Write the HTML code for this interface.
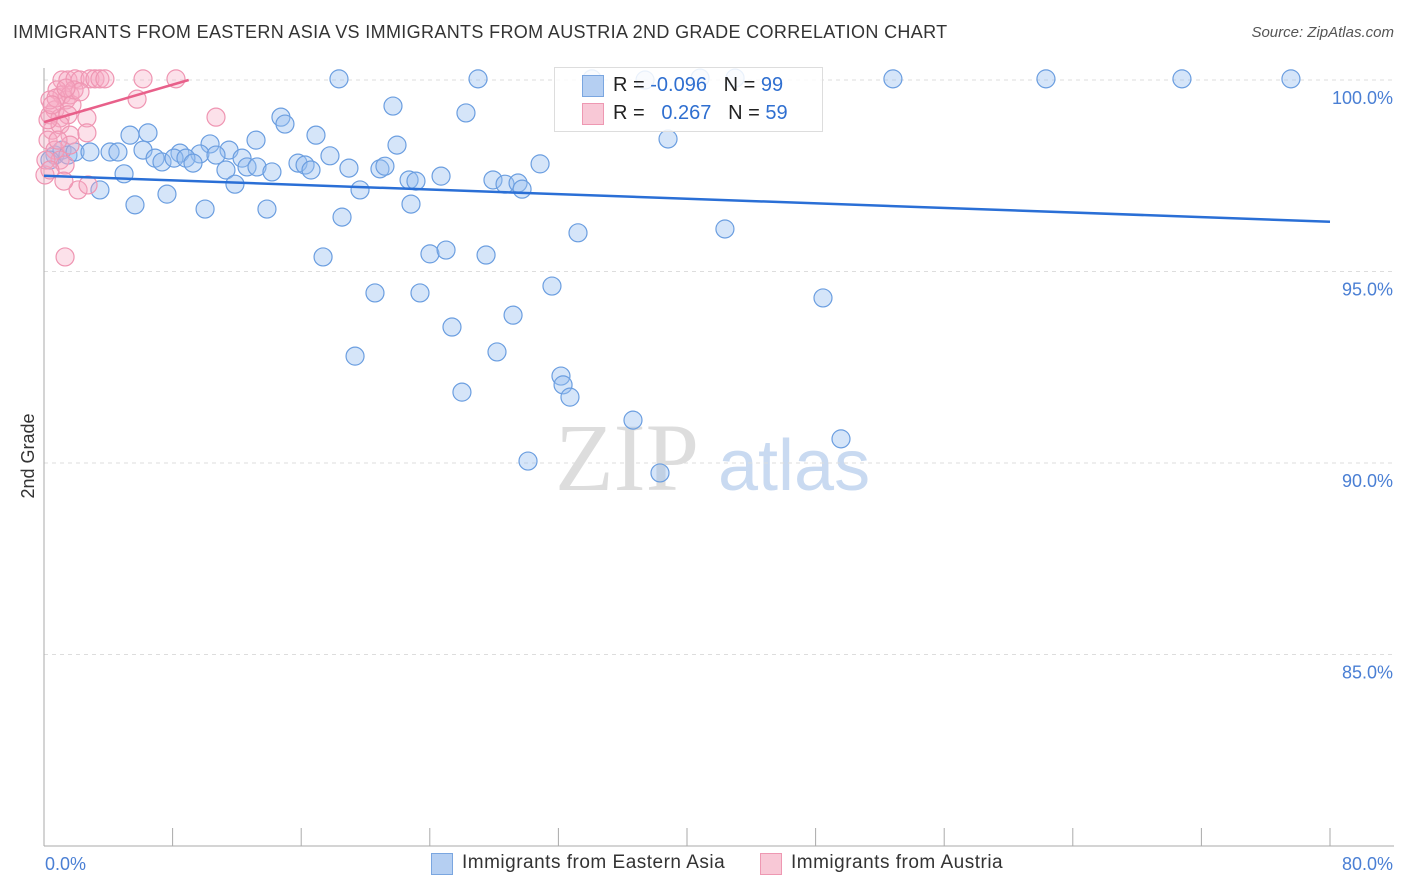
<!DOCTYPE html>
<html><head><meta charset="utf-8"><style>
body{margin:0;background:#fff;font-family:"Liberation Sans",sans-serif;}
#c{position:relative;width:1406px;height:892px;}
.t{position:absolute;white-space:nowrap;}
</style></head><body>
<div id="c">
<div class="t" style="left:13px;top:22px;font-size:18px;color:#333;letter-spacing:0.35px;">IMMIGRANTS FROM EASTERN ASIA VS IMMIGRANTS FROM AUSTRIA 2ND GRADE CORRELATION CHART</div>
<div class="t" style="right:12px;top:24px;font-size:15px;color:#555;font-style:italic;">Source: ZipAtlas.com</div>
<svg id="s" width="1406" height="892" style="position:absolute;left:0;top:0">
<text x="555" y="490" font-size="96" font-family="Liberation Serif" fill="#ddd">ZIP</text>
<text x="718" y="490" font-size="72" font-family="Liberation Sans" fill="#c9daf1">atlas</text>
<g id="grid"></g><g id="pts"></g><g id="lines"></g>
<text transform="translate(34,456) rotate(-90)" text-anchor="middle" font-size="18" fill="#333">2nd Grade</text>
</svg>
<div style="position:absolute;left:554px;top:67px;width:267px;height:63px;border:1px solid #ddd;background:rgba(255,255,255,0.85)">
<div style="position:absolute;left:27px;top:7px;width:20px;height:20px;background:#b5cff2;border:1px solid #7aa6e0"></div>
<div class="t" style="left:58px;top:6px;font-size:20px;color:#222">R = <span style="color:#2f6fd0">-0.096</span>&nbsp;&nbsp;&nbsp;N = <span style="color:#2f6fd0">99</span></div>
<div style="position:absolute;left:27px;top:35px;width:20px;height:20px;background:#f8c8d6;border:1px solid #ee98b2"></div>
<div class="t" style="left:58px;top:34px;font-size:20px;color:#222">R = &nbsp;&nbsp;<span style="color:#2f6fd0">0.267</span>&nbsp;&nbsp;&nbsp;N = <span style="color:#2f6fd0">59</span></div>
</div>
<div style="position:absolute;left:431px;top:853px;width:20px;height:20px;background:#b5cff2;border:1px solid #7aa6e0"></div>
<div class="t" style="left:462px;top:852px;font-size:19px;color:#333;letter-spacing:0.5px">Immigrants from Eastern Asia</div>
<div style="position:absolute;left:760px;top:853px;width:20px;height:20px;background:#f8c8d6;border:1px solid #ee98b2"></div>
<div class="t" style="left:791px;top:852px;font-size:19px;color:#333;letter-spacing:0.5px">Immigrants from Austria</div>
</div>
<script>
const yTicks=[100,95,90,85];
const yTickLabels=["100.0%","95.0%","90.0%","85.0%"];
const xLabels=["0.0%","80.0%"];
const bluePx=[[339,79],[478,79],[893,79],[1046,79],[1182,79],[1291,79],[592,79],[645,80],[700,78],[735,78],[393,106],[466,113],[281,117],[285,124],[668,139],[130,135],[148,133],[210,144],[316,135],[397,145],[256,140],[143,150],[180,153],[200,154],[229,150],[216,155],[155,158],[162,162],[174,158],[186,158],[193,163],[242,158],[247,167],[257,167],[272,172],[226,170],[298,163],[305,165],[311,170],[330,156],[349,168],[380,169],[385,166],[409,180],[416,181],[441,176],[493,180],[505,184],[518,183],[522,189],[540,164],[124,174],[235,184],[100,190],[167,194],[135,205],[205,209],[267,209],[360,190],[411,204],[342,217],[578,233],[725,229],[323,257],[430,254],[446,250],[486,255],[375,293],[420,293],[552,286],[823,298],[452,327],[513,315],[355,356],[497,352],[561,376],[563,385],[570,397],[462,392],[633,420],[841,439],[528,461],[660,473],[55,155],[62,150],[68,155],[75,152],[90,152],[110,152],[118,152],[50,160]];
const pinkPx=[[62,80],[68,80],[75,79],[80,80],[90,79],[95,79],[100,79],[105,79],[143,79],[176,79],[137,99],[216,117],[57,90],[62,95],[66,100],[70,95],[72,105],[55,110],[50,115],[60,118],[68,115],[87,118],[52,130],[60,125],[70,135],[87,133],[48,140],[55,150],[60,160],[70,145],[45,175],[65,165],[78,190],[88,185],[64,181],[65,257],[50,100],[56,98],[48,120],[52,105],[74,90],[80,92],[66,88],[58,140],[46,160],[50,170]];
const blueX=bluePx.map(p=>+((p[0]-44)/16.075).toFixed(2)), blueY=bluePx.map(p=>+(100-(p[1]-80)/38.3).toFixed(2));
const pinkX=pinkPx.map(p=>+((p[0]-44)/16.075).toFixed(2)), pinkY=pinkPx.map(p=>+(100-(p[1]-80)/38.3).toFixed(2));
const blueTrend=[[0,97.5],[80,96.3]], pinkTrend=[[0,98.9],[9,100]];
const X=v=>44+v*16.075, Y=v=>80+(100-v)*38.3;
const NS="http://www.w3.org/2000/svg";
function mk(t,a,p){const e=document.createElementNS(NS,t);for(const k in a)e.setAttribute(k,a[k]);p.appendChild(e);return e;}
const g=document.getElementById('grid');
yTicks.forEach((v,i)=>{const l=mk('line',{x1:44,x2:1394,y1:Y(v),y2:Y(v),stroke:'#ddd','stroke-dasharray':'4,4'},g);


const t=mk('text',{x:1393,y:Y(v)+24,'text-anchor':'end','font-size':18,fill:'#4a7fd4'},g);t.textContent=yTickLabels[i];

});
const ax=mk('line',{x1:44,x2:44,y1:68,y2:846,stroke:'#aaa'},g);


const bx=mk('line',{x1:44,x2:1394,y1:846,y2:846,stroke:'#aaa'},g);


for(let i=0;i<=10;i++){const tk=mk('line',{x1:X(i*8),x2:X(i*8),y1:828,y2:846,stroke:'#aaa'},g);

}
[[0,'start',45],[80,'end',1393]].forEach((d,i)=>{const t=mk('text',{x:d[2],y:870,'text-anchor':d[1],'font-size':18,fill:'#4a7fd4'},g);t.textContent=xLabels[i];

});
const P=document.getElementById('pts');
blueX.forEach((x,i)=>{const c=mk('circle',{cx:X(x),cy:Y(blueY[i]),r:9,fill:'rgba(150,190,240,0.4)',stroke:'#6b9ee0','stroke-width':1.2},P);

});
pinkX.forEach((x,i)=>{const c=mk('circle',{cx:X(x),cy:Y(pinkY[i]),r:9,fill:'rgba(245,170,195,0.35)',stroke:'#ef95b2','stroke-width':1.2},P);

});
const L=document.getElementById('lines');
const bl=mk('line',{x1:X(blueTrend[0][0]),y1:Y(blueTrend[0][1]),x2:X(blueTrend[1][0]),y2:Y(blueTrend[1][1]),stroke:'#2a6fd6','stroke-width':2.5},L);


const pl=mk('line',{x1:X(pinkTrend[0][0]),y1:Y(pinkTrend[0][1]),x2:X(pinkTrend[1][0]),y2:Y(pinkTrend[1][1]),stroke:'#e8608a','stroke-width':2.5},L);


</script>
</body></html>
